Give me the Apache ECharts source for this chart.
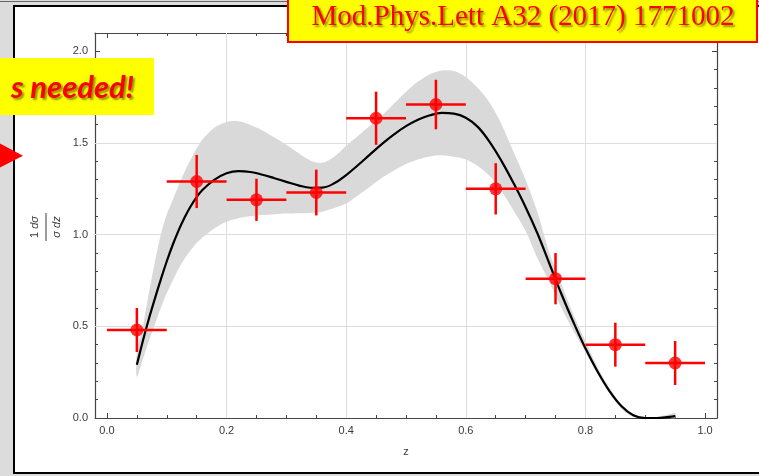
<!DOCTYPE html>
<html>
<head>
<meta charset="utf-8">
<script src="https://cdn.jsdelivr.net/npm/echarts@6.0.0/dist/echarts.min.js"></script>
<style>
  html, body { margin: 0; padding: 0; width: 759px; height: 476px; overflow: hidden; background: #dcdcdc; }
  #topline { position: absolute; left: 0; top: 1px; width: 759px; height: 1px; background: #666; }
  #frame { position: absolute; left: 13px; top: 5px; width: 800px; height: 465px; border: 2px solid #000; background: #fff; }
  #chart { position: absolute; left: 0; top: 0; width: 759px; height: 476px; }
</style>
</head>
<body>
<div id="topline"></div>
<div id="frame"></div>
<div id="chart"></div>
<script>
// ---- data ----
const zGrid = [0.05,0.06,0.07,0.08,0.09,0.10,0.11,0.12,0.13,0.14,0.15,0.16,0.18,0.20,0.22,0.24,0.26,0.28,0.30,0.32,0.34,0.36,0.38,0.40,0.42,0.44,0.46,0.48,0.50,0.52,0.54,0.56,0.58,0.60,0.62,0.64,0.66,0.68,0.70,0.72,0.74,0.76,0.78,0.80,0.82,0.84,0.86,0.88,0.90,0.92,0.94,0.95];
const fitCurve = [0.29,0.42,0.54,0.65,0.755,0.855,0.945,1.025,1.095,1.155,1.205,1.245,1.30,1.335,1.347,1.342,1.327,1.308,1.288,1.269,1.256,1.257,1.28,1.325,1.38,1.438,1.495,1.547,1.592,1.627,1.651,1.664,1.66,1.638,1.588,1.505,1.40,1.28,1.15,1.005,0.84,0.675,0.522,0.38,0.255,0.148,0.065,0.015,0.0,0.0,0.006,0.01];
const bandUpper = [0.36,0.50,0.68,0.85,1.00,1.11,1.19,1.27,1.345,1.41,1.47,1.52,1.585,1.615,1.618,1.598,1.568,1.53,1.49,1.445,1.405,1.392,1.425,1.485,1.54,1.595,1.65,1.715,1.78,1.835,1.875,1.895,1.893,1.86,1.80,1.72,1.60,1.45,1.30,1.12,0.90,0.73,0.565,0.42,0.28,0.165,0.075,0.022,0.006,0.006,0.02,0.028];
const bandLower = [0.225,0.32,0.42,0.51,0.60,0.68,0.75,0.815,0.87,0.915,0.955,0.985,1.035,1.07,1.09,1.10,1.107,1.112,1.115,1.117,1.118,1.125,1.145,1.17,1.215,1.262,1.31,1.35,1.385,1.41,1.427,1.433,1.425,1.41,1.375,1.32,1.235,1.13,1.02,0.87,0.74,0.60,0.475,0.36,0.24,0.135,0.052,0.005,0.0,0.0,0.0,0.0];

const zPoints  = [0.05,0.15,0.25,0.35,0.45,0.55,0.65,0.75,0.85,0.95];
const yPoints  = [0.48,1.29,1.19,1.23,1.635,1.71,1.25,0.76,0.40,0.30];
const yErr     = [0.12,0.145,0.115,0.125,0.145,0.135,0.14,0.14,0.12,0.12];
const zBinHalf = [0.05,0.05,0.05,0.05,0.05,0.05,0.05,0.05,0.05,0.05];

const xTickValues = [0.0,0.2,0.4,0.6,0.8,1.0];
const xTickLabels = ['0.0','0.2','0.4','0.6','0.8','1.0'];
const yTickValues = [0.0,0.5,1.0,1.5,2.0];
const yTickLabels = ['0.0','0.5','1.0','1.5','2.0'];
const xGridAt = [0.2,0.4,0.6,0.8];
const yGridAt = [0.5,1.0,1.5];

const citation = 'Mod.Phys.Lett A32 (2017) 1771002';
const banner = 's needed!';

// ---- chart ----
const axisColor = '#444';
const labelColor = '#3a3a3a';
const sansFont = 'Liberation Sans, Arial, sans-serif';
function labelFrom(values, labels) {
  return function (v) {
    const i = values.findIndex(t => Math.abs(t - v) < 1e-9);
    return i >= 0 ? labels[i] : '';
  };
}
function frameAxis(extra) {
  return Object.assign({
    type: 'value',
    axisLine: { show: true, onZero: false, lineStyle: { color: axisColor, width: 1.2 } },
    axisTick: { show: true, inside: true, length: 5, lineStyle: { color: axisColor, width: 1 } },
    splitLine: { show: false },
    minorSplitLine: { show: false }
  }, extra);
}
const xMinor = { show: true, splitNumber: 4, length: 3, lineStyle: { color: axisColor, width: 1 } };
const yMinor = { show: true, splitNumber: 5, length: 3, lineStyle: { color: axisColor, width: 1 } };

const chart = echarts.init(document.getElementById('chart'), null, { renderer: 'canvas' });
chart.setOption({
  animation: false,
  backgroundColor: 'transparent',
  grid: { left: 95, right: 42, top: 33, bottom: 58, containLabel: false },
  xAxis: [
    frameAxis({
      position: 'bottom', min: -0.02, max: 1.02, splitNumber: 5, minorTick: xMinor,
      axisLabel: { show: true, margin: 7, color: labelColor, fontSize: 11, fontFamily: sansFont,
                   formatter: labelFrom(xTickValues, xTickLabels) },
      name: 'z', nameLocation: 'middle', nameGap: 28,
      nameTextStyle: { color: labelColor, fontSize: 11, fontFamily: sansFont }
    }),
    frameAxis({ position: 'top', min: -0.02, max: 1.02, splitNumber: 5, minorTick: xMinor, axisLabel: { show: false } })
  ],
  yAxis: [
    frameAxis({
      position: 'left', min: 0, max: 2.1, splitNumber: 4, minorTick: yMinor,
      axisLabel: { show: true, margin: 7, color: labelColor, fontSize: 11, fontFamily: sansFont,
                   formatter: labelFrom(yTickValues, yTickLabels) }
    }),
    frameAxis({ position: 'right', min: 0, max: 2.1, splitNumber: 4, minorTick: yMinor, axisLabel: { show: false } })
  ],
  series: [
    {
      name: 'band', type: 'custom', silent: true, z: 3,
      data: zGrid.map((z, i) => [z, bandLower[i], bandUpper[i]]),
      encode: { x: 0, y: [1, 2] },
      renderItem: function (params, api) {
        if (params.dataIndexInside !== 0) return null;
        const n = params.dataInsideLength;
        const upper = [], lower = [];
        for (let i = 0; i < n; i++) {
          const z = api.value(0, i);
          upper.push(api.coord([z, api.value(2, i)]));
          lower.push(api.coord([z, api.value(1, i)]));
        }
        return {
          type: 'polygon',
          shape: { points: upper.concat(lower.reverse()), smooth: 0.3 },
          style: { fill: '#d9d9d9', stroke: null }
        };
      },
      markLine: {
        silent: true, symbol: 'none', z: 1, animation: false,
        label: { show: false },
        lineStyle: { color: '#dedede', width: 1, type: 'solid' },
        emphasis: { disabled: true },
        data: xGridAt.map(v => ({ xAxis: v })).concat(yGridAt.map(v => ({ yAxis: v })))
      }
    },
    {
      name: 'fit', type: 'line',
      data: zGrid.map((z, i) => [z, fitCurve[i]]),
      smooth: 0.4, showSymbol: false, symbol: 'none', silent: true,
      lineStyle: { color: '#000', width: 2.2 }, z: 4
    },
    {
      name: 'errors', type: 'custom', silent: true, z: 6,
      data: zPoints.map((z, i) => [z, yPoints[i], zBinHalf[i], yErr[i]]),
      encode: { x: 0, y: 1 },
      renderItem: function (params, api) {
        const z = api.value(0), y = api.value(1), dz = api.value(2), dy = api.value(3);
        const l = api.coord([z - dz, y]), r = api.coord([z + dz, y]);
        const t = api.coord([z, y + dy]), b = api.coord([z, y - dy]);
        const st = { stroke: '#ff0000', lineWidth: 2.5 };
        return { type: 'group', children: [
          { type: 'line', shape: { x1: l[0], y1: l[1], x2: r[0], y2: r[1] }, style: st },
          { type: 'line', shape: { x1: t[0], y1: t[1], x2: b[0], y2: b[1] }, style: st }
        ] };
      }
    },
    {
      name: 'data', type: 'scatter', silent: true, z: 7,
      data: zPoints.map((z, i) => [z, yPoints[i]]),
      symbol: 'circle', symbolSize: 13,
      itemStyle: { color: '#ff0000' }
    }
  ],
  graphic: [
    {
      type: 'group', x: 46, y: 227, rotation: Math.PI / 2, z: 50,
      children: [
        { type: 'text', x: 0, y: -11, style: { text: '1 {i|dσ}', align: 'center', verticalAlign: 'middle',
            fontSize: 11, fontFamily: sansFont, fill: labelColor,
            rich: { i: { fontStyle: 'italic', fontSize: 11, fontFamily: sansFont, fill: labelColor } } } },
        { type: 'line', shape: { x1: -14, y1: 0, x2: 14, y2: 0 }, style: { stroke: labelColor, lineWidth: 1 } },
        { type: 'text', x: 0, y: 11, style: { text: 'σ dz', align: 'center', verticalAlign: 'middle',
            fontSize: 11, fontStyle: 'italic', fontFamily: sansFont, fill: labelColor } }
      ]
    },
    { type: 'rect', z: 100, shape: { x: 288, y: -5, width: 469, height: 47 },
      style: { fill: '#ffff00', stroke: '#ff0000', lineWidth: 2 } },
    { type: 'text', z: 101, x: 523, y: 17,
      style: { text: citation, align: 'center', verticalAlign: 'middle', fill: '#ff0000',
               fontSize: 29, fontFamily: 'Liberation Serif, Times New Roman, serif',
               textShadowColor: 'rgba(60,60,0,0.55)', textShadowOffsetX: 2, textShadowOffsetY: 2, textShadowBlur: 2 } },
    { type: 'rect', z: 100, shape: { x: -2, y: 58, width: 156, height: 57 },
      style: { fill: '#ffff00' } },
    { type: 'text', z: 101, x: 134, y: 88,
      style: { text: banner, align: 'right', verticalAlign: 'middle', fill: '#ff0000',
               fontSize: 31, fontStyle: 'italic', fontWeight: 'bold', fontFamily: 'Lato, sans-serif',
               textShadowColor: 'rgba(60,60,0,0.55)', textShadowOffsetX: 2, textShadowOffsetY: 2, textShadowBlur: 2 } },
    { type: 'polygon', z: 102, shape: { points: [[-1, 143], [23, 155.7], [-1, 168]] },
      style: { fill: '#ff0000' } }
  ]
});
</script>
</body>
</html>
